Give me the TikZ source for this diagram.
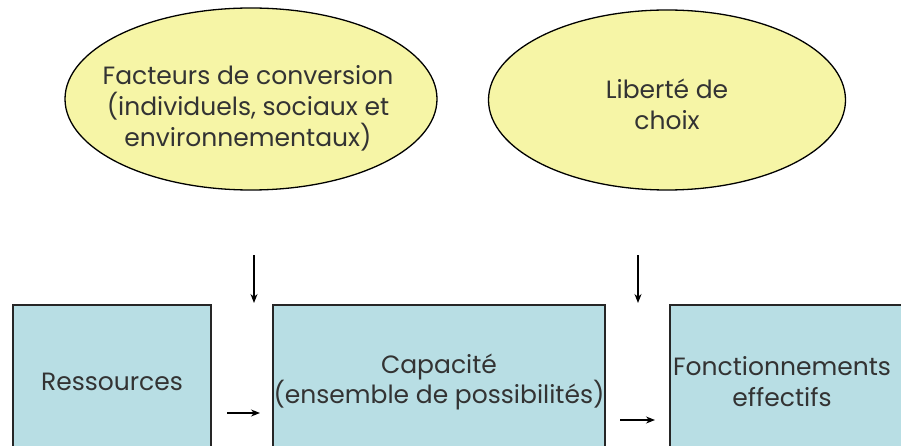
\documentclass[tikz,border=0pt]{standalone}
\usepackage{fontspec}
\setmainfont{Poppins}
\usetikzlibrary{shapes.geometric,arrows.meta}
\definecolor{ovalfill}{RGB}{246,245,166}
\definecolor{boxfill}{RGB}{184,222,228}
\begin{document}
\begin{tikzpicture}[x=1pt,y=-1pt,
    oval/.style={ellipse,draw=black,line width=1.3pt,fill=ovalfill,inner sep=0pt},
    txt/.style={align=center,text=black!80,inner sep=0pt,font=\fontsize{25}{31}\selectfont},
    stage/.style={rectangle,draw=black!85,line width=1.3pt,fill=boxfill,inner sep=0pt,
      align=center,text=black!80,font=\fontsize{25}{30}\selectfont},
    flow/.style={-{Stealth[length=9pt,width=7pt]},line width=1.2pt}]
    \clip (0,0) rectangle (901,446);
    \fill[white] (0,0) rectangle (901,446);

    \node[oval,minimum width=372pt,minimum height=182pt] (Fc) at (251,99) {};
    \node[txt] (FcT) at (248,108) {Facteurs de conversion\\(individuels, sociaux et\\environnementaux)};
    \node[oval,minimum width=357pt,minimum height=180pt] (Lc) at (667,100) {};
    \node[txt] (LcT) at (667,104) {Libert\'e de\\choix};

    \node[stage,minimum width=198pt,minimum height=154pt] (Res) at (112,382) {Ressources};
    \node[stage,minimum width=332pt,minimum height=154pt] (Cap) at (439,382) {Capacit\'e\\(ensemble de possibilit\'es)};
    \node[stage,minimum width=240pt,minimum height=154pt] (Fon) at (790,382) {};
    \node[txt] (FonT) at (782,382) {Fonctionnements\\effectifs};

    \coordinate (FcA) at (254,255); \coordinate (FcB) at (254,303);
    \coordinate (LcA) at (638,255); \coordinate (LcB) at (638,303);
    \coordinate (ResA) at (227,413); \coordinate (ResB) at (260,413);
    \coordinate (CapA) at (620,420); \coordinate (CapB) at (655,420);

    \draw[flow] (FcA) to (FcB); \draw[flow] (LcA) to (LcB);
    \draw[flow] (ResA) to (ResB); \draw[flow] (CapA) to (CapB);
\end{tikzpicture}
\end{document}
